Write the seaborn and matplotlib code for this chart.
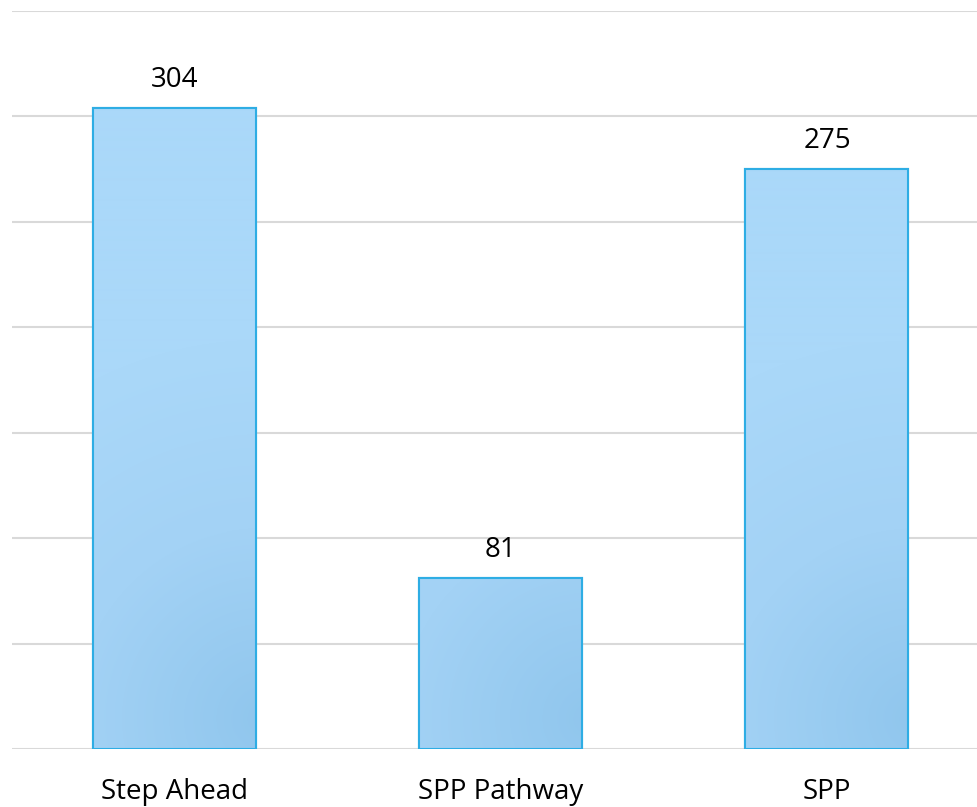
import matplotlib
matplotlib.use("Agg")
import matplotlib.pyplot as plt
import seaborn as sns
import numpy as np
import pandas as pd
from matplotlib.colors import LinearSegmentedColormap

categories = ["Step Ahead", "SPP Pathway", "SPP"]
values = [304, 81, 275]

sns.set_theme(style="white")
plt.rcParams['font.family'] = ['Open Sans', 'DejaVu Sans']

W, H = 978, 807
fig = plt.figure(figsize=(W / 100, H / 100), dpi=100)
ax = fig.add_axes([12 / W, (H - 749) / H, 978 / W, (749 - 11) / H])

df = pd.DataFrame({"cat": categories, "val": values})
sns.barplot(data=df, x="cat", y="val", ax=ax, color="#A6D5F8",
            edgecolor="#2EADE4", linewidth=1.5, width=0.5, saturation=1)

ax.set_ylim(0, 350)
ax.set_xlim(-0.5, 2.5)
ax.set_yticks(np.arange(0, 351, 50))
ax.yaxis.grid(True, color="#D9D9D9", linewidth=1.5)
ax.set_axisbelow(True)
ax.tick_params(axis="y", left=False, labelleft=False)
ax.tick_params(axis="x", bottom=False, labelsize=20, colors="black", pad=15)
ax.set_xlabel("")
ax.set_ylabel("")
for s in ax.spines.values():
    s.set_visible(False)

# subtle radial gradient fill (pixel-based)
cmap = LinearSegmentedColormap.from_list("g", ["#AAD8F9", "#A3D2F5", "#90C6ED"])
px_per_unit = 738 / 350
for p in ax.patches:
    x0, y0 = p.get_x(), p.get_y()
    w, h = p.get_width(), p.get_height()
    wpx, hpx = 163.0, h * px_per_unit
    ny = max(int(hpx), 2)
    yy, xx = np.mgrid[0:hpx:complex(ny), 0:wpx:163j]
    d = np.sqrt((xx - wpx * 1.05) ** 2 + (yy - 30) ** 2)
    g = 1 - np.clip(d / 380.0, 0, 1)
    im = ax.imshow(g, cmap=cmap, extent=[x0, x0 + w, y0, y0 + h], origin="lower",
                   aspect="auto", zorder=p.get_zorder() + 0.1, vmin=0, vmax=1,
                   interpolation="bilinear")
    im.set_clip_path(p)
    p.set_facecolor("none")
    edge = plt.Rectangle((x0, y0), w, h, fill=False, edgecolor="#2EADE4",
                         linewidth=1.5, zorder=p.get_zorder() + 0.2)
    ax.add_patch(edge)
ax.set_xlim(-0.5, 2.5)
ax.set_ylim(0, 350)

for i, v in enumerate(values):
    ax.annotate(str(v), (i, v), xytext=(0, 15), textcoords="offset points",
                ha="center", va="baseline", fontsize=20, color="black")

fig.savefig("out.png", dpi=100)
